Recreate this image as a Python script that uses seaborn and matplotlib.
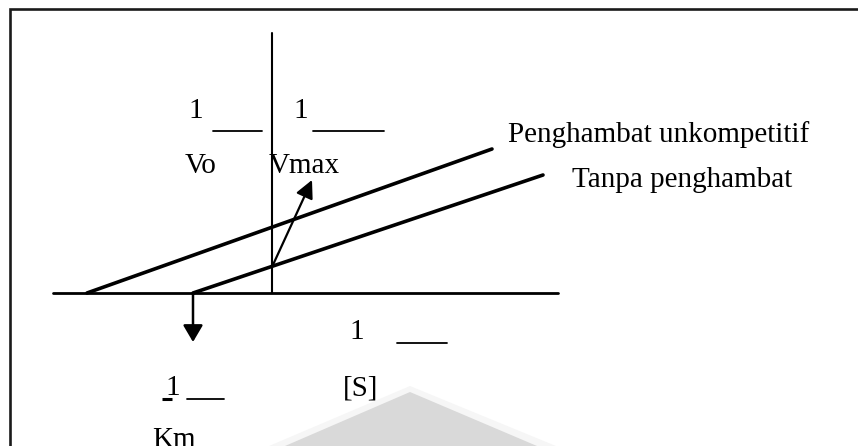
import matplotlib
matplotlib.use("Agg")
import matplotlib.pyplot as plt
from matplotlib.patches import Polygon
import numpy as np
import pandas as pd
import seaborn as sns

# Lineweaver-Burk plot (1/[S] on x, 1/Vo on y), data units with origin at axis crossing
series = ["Penghambat unkompetitif", "Tanpa penghambat"]
inv_s_unk = [-18.5, 22.0]
inv_v_unk = [0.0, 14.4]
inv_s_tanpa = [-7.9, 27.1]
inv_v_tanpa = [0.0, 11.8]

# axis extents
x_axis = [-21.9, 28.6]
y_axis = [0.0, 26.0]

# arrows: 1/Vmax intercept -> label, -1/Km intercept -> label
vmax_arrow_from = (0.0, 2.6)
vmax_arrow_to = (4.0, 11.3)
km_arrow_from = (-7.9, 0.0)
km_arrow_to = (-7.9, -4.9)

sns.set_theme(style="white")
plt.rcParams["font.family"] = ["Liberation Serif", "DejaVu Serif"]
plt.rcParams["text.color"] = "black"

fig = plt.figure(figsize=(8.58, 4.46), dpi=100)
ax = fig.add_axes([0, 0, 1, 1])
ax.set_xlim(-27.2, 58.6)
ax.set_ylim(-15.3, 29.3)
ax.axis("off")

# faint background shape near the bottom
ax.add_patch(Polygon([(-0.3, -15.3), (13.8, -9.3), (28.4, -15.3)], closed=True,
                     facecolor="#f6f6f6", edgecolor="none", zorder=0))
ax.add_patch(Polygon([(1.3, -15.3), (13.8, -9.9), (26.5, -15.3)], closed=True,
                     facecolor="#d9d9d9", edgecolor="none", zorder=0))

# frame (top and left edges)
ax.plot([-26.2, -26.2, 58.8], [-15.4, 28.4, 28.4], color="#1a1a1a", lw=1.9,
        solid_joinstyle="miter", zorder=1)

# coordinate axes
sns.lineplot(x=x_axis, y=[0, 0], ax=ax, color="black", lw=2.0, sort=False,
             estimator=None)
sns.lineplot(x=[0, 0], y=y_axis, ax=ax, color="black", lw=1.5, sort=False,
             estimator=None)

# reaction lines
lines = pd.DataFrame({
    "x": inv_s_unk + inv_s_tanpa,
    "y": inv_v_unk + inv_v_tanpa,
    "seri": [series[0]] * 2 + [series[1]] * 2,
})
sns.lineplot(data=lines, x="x", y="y", hue="seri", palette=["black", "black"],
             lw=2.6, sort=False, estimator=None, legend=False, ax=ax)

# arrows
ax.annotate("", xy=vmax_arrow_to, xytext=vmax_arrow_from,
            arrowprops=dict(arrowstyle="-|>,head_length=0.9,head_width=0.45",
                            color="black", lw=1.6, shrinkA=0, shrinkB=0))
ax.annotate("", xy=km_arrow_to, xytext=km_arrow_from,
            arrowprops=dict(arrowstyle="-|>,head_length=0.85,head_width=0.5",
                            color="black", lw=1.8, shrinkA=0, shrinkB=0))

fs = 21
# 1/Vo and 1/Vmax labels
ax.text(-7.6, 17.5, "1", fontsize=fs, ha="center", va="baseline")
ax.plot([-5.9, -1.0], [16.2, 16.2], color="black", lw=1.3)
ax.text(-7.1, 12.0, "Vo", fontsize=fs, ha="center", va="baseline")
ax.text(2.9, 17.5, "1", fontsize=fs, ha="center", va="baseline")
ax.plot([4.1, 11.2], [16.2, 16.2], color="black", lw=1.3)
ax.text(-0.3, 12.0, "Vmax", fontsize=fs, ha="left", va="baseline")

# series labels
ax.text(23.6, 15.1, series[0], fontsize=fs, ha="left", va="baseline")
ax.text(30.0, 10.6, series[1], fontsize=fs, ha="left", va="baseline")

# 1/[S] label
ax.text(8.5, -4.6, "1", fontsize=fs, ha="center", va="baseline")
ax.plot([12.5, 17.5], [-5.0, -5.0], color="black", lw=1.3)
ax.text(8.9, -10.2, "[S]", fontsize=fs, ha="center", va="baseline")

# -1/Km label
ax.text(-9.9, -10.2, "1", fontsize=fs, ha="center", va="baseline")
ax.plot([-11.0, -10.0], [-10.6, -10.6], color="black", lw=2.2,
        solid_capstyle="butt")
ax.plot([-8.5, -4.8], [-10.6, -10.6], color="black", lw=1.3)
ax.text(-9.8, -15.4, "Km", fontsize=fs, ha="center", va="baseline")

fig.savefig("out.png", dpi=100)
